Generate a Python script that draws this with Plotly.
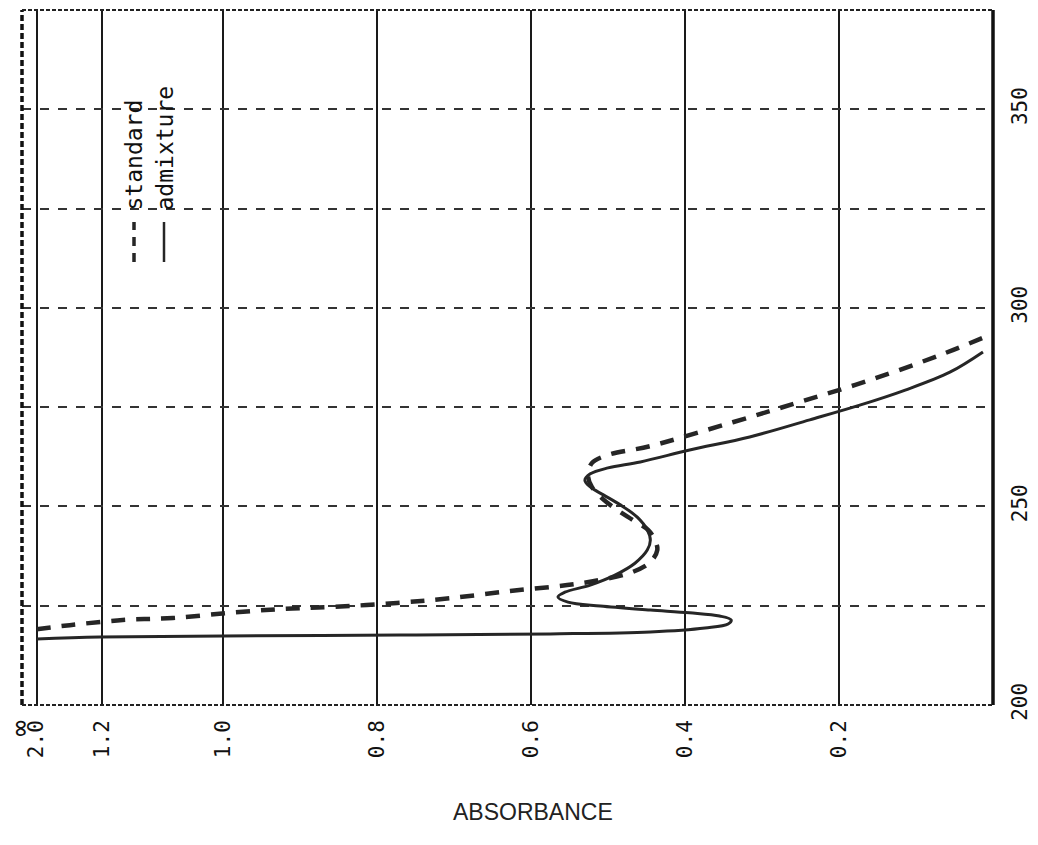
import numpy as np
import plotly.graph_objects as go

# ---- data (wavelength nm, absorbance) ----
wl_standard = [219.1, 220.1, 221.4, 221.9, 223.2, 224.2, 224.7, 225.7, 226.9, 228.7,
               230.2, 231.5, 233.5, 236.0, 239.0, 241.5, 244.1, 246.6, 249.1, 252.1,
               254.9, 257.9, 260.9, 262.9, 265.2, 271.2, 276.3, 281.8, 288.1, 293.2]
abs_standard = [2.0, 1.595, 1.166, 1.083, 0.991, 0.922, 0.857, 0.774, 0.705, 0.627,
                0.553, 0.510, 0.468, 0.445, 0.436, 0.439, 0.448, 0.468, 0.488, 0.508,
                0.521, 0.526, 0.521, 0.501, 0.445, 0.338, 0.251, 0.160, 0.069, 0.004]

wl_admixture = [216.6, 217.1, 217.4, 217.6, 217.9, 218.4, 219.4, 220.4, 221.4, 222.4,
                223.2, 223.9, 224.9, 225.9, 227.2, 228.4, 230.2, 232.7, 235.7, 239.0,
                241.5, 244.1, 247.3, 250.4, 252.9, 254.9, 256.6, 258.2, 259.7, 261.2,
                264.2, 267.5, 271.8, 275.5, 279.3, 283.8, 288.9]
abs_admixture = [2.0, 1.228, 1.0, 0.770, 0.575, 0.445, 0.374, 0.344, 0.340, 0.355,
                 0.394, 0.445, 0.510, 0.552, 0.565, 0.556, 0.523, 0.491, 0.465, 0.449,
                 0.445, 0.449, 0.462, 0.484, 0.506, 0.523, 0.530, 0.523, 0.500, 0.458,
                 0.394, 0.316, 0.238, 0.173, 0.114, 0.056, 0.013]

# absorbance axis of the chart paper: linear 0-1, compressed above 1
abs_ticks = [0.2, 0.4, 0.6, 0.8, 1.0, 1.2, 2.0]
abs_tick_labels = ["0.2", "0.4", "0.6", "0.8", "1.0", "1.2", "2.0",
                   "<span style='font-size:27px'>\u221e</span>"]
scale_abs = [0.0, 1.0, 1.2, 2.0]
scale_pos = [0.0, 1.0, 1.157, 1.242]
inf_pos = 1.2605

wl_ticks = [200, 225, 250, 275, 300, 325, 350, 375]
wl_tick_labels = ["200", "", "250", "", "300", "", "350", ""]


def chart_pos(a):
    return np.interp(a, scale_abs, scale_pos)


ink = "#262626"
fig = go.Figure()
fig.add_trace(go.Scatter(x=chart_pos(abs_standard), y=wl_standard, mode="lines",
                         line=dict(color=ink, width=4.5, dash="14px,11px", shape="spline"),
                         name="standard", showlegend=False))
fig.add_trace(go.Scatter(x=chart_pos(abs_admixture), y=wl_admixture, mode="lines",
                         line=dict(color=ink, width=3, shape="spline"),
                         name="admixture", showlegend=False))

tickvals_x = list(chart_pos(abs_ticks)) + [inf_pos]

fig.update_layout(
    width=1038, height=845,
    margin=dict(l=22, r=45, t=10, b=140, autoexpand=False),
    paper_bgcolor="white", plot_bgcolor="white",
    font=dict(family="DejaVu Sans Mono", size=21, color="#111"),
    xaxis=dict(range=[1.261, 0], tickmode="array", tickvals=tickvals_x,
               ticktext=abs_tick_labels, tickangle=-90, showgrid=True,
               gridcolor="#1a1a1a", gridwidth=2, zeroline=False, showline=False,
               ticks="", ticklabelstandoff=10, automargin=False),
    yaxis=dict(range=[200, 375], side="right", tickmode="array", tickvals=wl_ticks,
               ticktext=wl_tick_labels, tickangle=-90, showgrid=True,
               gridcolor="#333", gridwidth=1.5, griddash="dash", zeroline=False,
               showline=False, ticks="", ticklabelstandoff=12, automargin=False),
)

# frame
fig.add_shape(type="line", xref="paper", yref="paper", x0=1, x1=1, y0=0, y1=1,
              line=dict(color="#111", width=3.5))
fig.add_shape(type="line", xref="paper", yref="paper", x0=0, x1=0, y0=0, y1=1,
              line=dict(color="#111", width=3.5, dash="6px,3px"))
fig.add_shape(type="line", xref="paper", yref="paper", x0=0, x1=1, y0=0, y1=0,
              line=dict(color="#222", width=2, dash="4px,2px"))
fig.add_shape(type="line", xref="paper", yref="paper", x0=0, x1=1, y0=1, y1=1,
              line=dict(color="#222", width=2, dash="4px,2px"))


def px_x(px):
    return (px - 22) / 971.0


def px_y(py):
    return (705 - py) / 695.0


# legend drawn as on the chart
fig.add_shape(type="line", xref="paper", yref="paper", x0=px_x(134), x1=px_x(134),
              y0=px_y(262), y1=px_y(222), line=dict(color=ink, width=3.5, dash="9px,7px"))
fig.add_shape(type="line", xref="paper", yref="paper", x0=px_x(164), x1=px_x(164),
              y0=px_y(262), y1=px_y(222), line=dict(color=ink, width=2.5))
fig.add_annotation(xref="paper", yref="paper", x=px_x(133), y=px_y(213), text="standard",
                   textangle=-90, showarrow=False, xanchor="center", yanchor="bottom",
                   font=dict(family="DejaVu Sans Mono", size=23, color="#111"))
fig.add_annotation(xref="paper", yref="paper", x=px_x(164), y=px_y(213), text="admixture",
                   textangle=-90, showarrow=False, xanchor="center", yanchor="bottom",
                   font=dict(family="DejaVu Sans Mono", size=23, color="#111"))

fig.add_annotation(xref="paper", yref="paper", x=px_x(533), y=px_y(812), text="ABSORBANCE",
                   showarrow=False, xanchor="center", yanchor="middle",
                   font=dict(family="Liberation Sans", size=23, color="#222"))

fig.write_html("out.html")
